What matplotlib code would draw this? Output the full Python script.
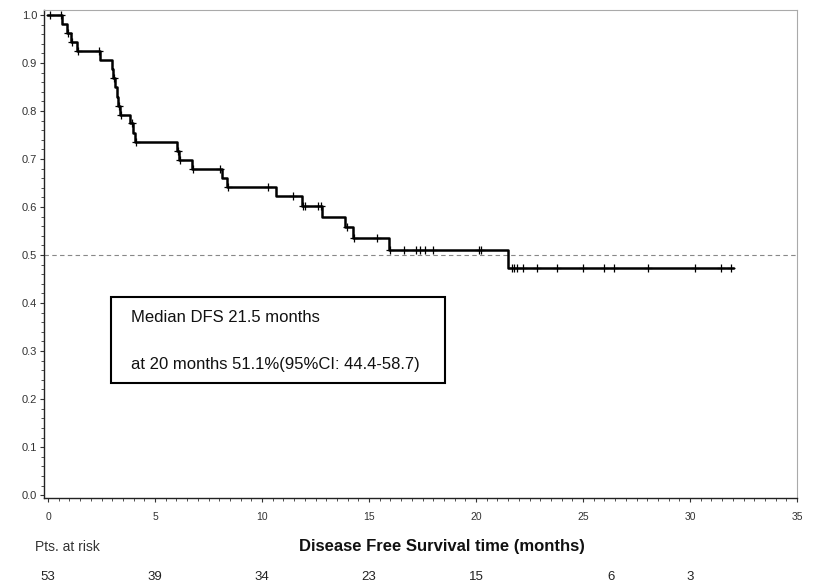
import numpy as np
import matplotlib.pyplot as plt
from matplotlib.patches import Rectangle
from matplotlib.ticker import MultipleLocator

plt.rcParams['font.family'] = ['Liberation Sans', 'DejaVu Sans']

# Kaplan-Meier steps: event time (months) -> survival after the drop
event_times = [0.64, 0.87, 1.06, 1.34, 2.43, 2.97, 3.05, 3.13, 3.20, 3.27, 3.36,
               3.83, 3.95, 4.07, 6.01, 6.10, 6.71, 8.12, 8.38, 10.65, 11.88,
               12.82, 13.88, 14.27, 15.95, 21.5]
surv_after = [0.981, 0.962, 0.943, 0.925, 0.906, 0.887, 0.868, 0.849, 0.830, 0.811,
              0.792, 0.774, 0.755, 0.736, 0.717, 0.698, 0.679, 0.660, 0.641, 0.622,
              0.602, 0.580, 0.558, 0.536, 0.511, 0.472]
last_followup = 32.0

# censored patients
censor_times = [0.1, 0.6, 0.95, 1.1, 1.38, 2.4, 3.1, 3.3, 3.4, 3.9, 4.1, 6.05, 6.15,
                6.75, 8.05, 8.4, 10.29, 11.43, 11.92, 12.0, 12.63, 12.74, 13.95,
                14.3, 15.39, 15.98, 16.65, 17.2, 17.38, 17.62, 17.98, 20.15, 20.25,
                21.67, 21.78, 21.9, 22.21, 22.84, 23.8, 24.98, 25.98, 26.45, 28.05,
                30.23, 31.45, 31.9]

# patients at risk row
risk_pos = [0, 5, 10, 15, 20, 26.3, 30]
risk_counts = [53, 39, 34, 23, 15, 6, 3]

x_ticks = [0, 5, 10, 15, 20, 25, 30, 35]
y_ticks = [0.0, 0.1, 0.2, 0.3, 0.4, 0.5, 0.6, 0.7, 0.8, 0.9, 1.0]

box_lines = ["Median DFS 21.5 months", "at 20 months 51.1%(95%CI: 44.4-58.7)"]


def surv_at(t):
    s = 1.0
    for et, sv in zip(event_times, surv_after):
        if et <= t:
            s = sv
    return s


fig = plt.figure(figsize=(8.15, 5.85), dpi=100)
ax = fig.add_axes([0.054, 0.1487, 0.924, 0.8343])

# step curve
xs = [0.0] + event_times + [last_followup]
ys = [1.0] + surv_after + [surv_after[-1]]
ax.step(xs, ys, where='post', color='black', lw=1.8, zorder=3)

cy = [surv_at(t) for t in censor_times]
ax.plot(censor_times, cy, ls='none', marker='+', ms=6, mew=0.9, color='black', zorder=4)

ax.axhline(0.5, color='#888888', lw=0.8, ls=(0, (4, 3)), zorder=1)

# summary box
ax.add_patch(Rectangle((2.94, 0.233), 15.6, 0.18, fill=False, ec='black', lw=1.5, zorder=2))
ax.text(3.86, 0.370, box_lines[0], fontsize=12, va='center', ha='left', color='#111111')
ax.text(3.86, 0.271, box_lines[1], fontsize=12, va='center', ha='left', color='#111111')

ax.set_xlim(-0.19, 35)
ax.set_ylim(-0.006, 1.0104)
ax.set_xticks(x_ticks)
ax.set_yticks(y_ticks)
ax.set_xticklabels([str(v) for v in x_ticks])
ax.set_yticklabels([f"{v:.1f}" for v in y_ticks])
ax.xaxis.set_minor_locator(MultipleLocator(0.5))
ax.yaxis.set_minor_locator(MultipleLocator(0.02))
ax.tick_params(which='major', length=3, width=0.8, colors='#333333')
ax.tick_params(which='minor', length=2, width=0.6, colors='#333333')
ax.tick_params(axis='x', which='major', pad=7, labelsize=7.5)
ax.tick_params(axis='y', which='major', pad=2, labelsize=8)

for side in ['top', 'right']:
    ax.spines[side].set_color('#aaaaaa')
for side in ['left', 'bottom']:
    ax.spines[side].set_color('#222222')
    ax.spines[side].set_linewidth(1.0)

# labels under the axis
tr = ax.get_xaxis_transform()
ax.text(-0.6, -0.100, "Pts. at risk", transform=tr, fontsize=10, ha='left', va='center',
        color='#333333')
ax.text(18.4, -0.100, "Disease Free Survival time (months)", transform=tr, fontsize=12,
        fontweight='bold', ha='center', va='center', color='#111111')
for p, n in zip(risk_pos, risk_counts):
    ax.text(p, -0.162, str(n), transform=tr, fontsize=9.5, ha='center', va='center',
            color='#222222')

fig.savefig('out.png', dpi=100)
